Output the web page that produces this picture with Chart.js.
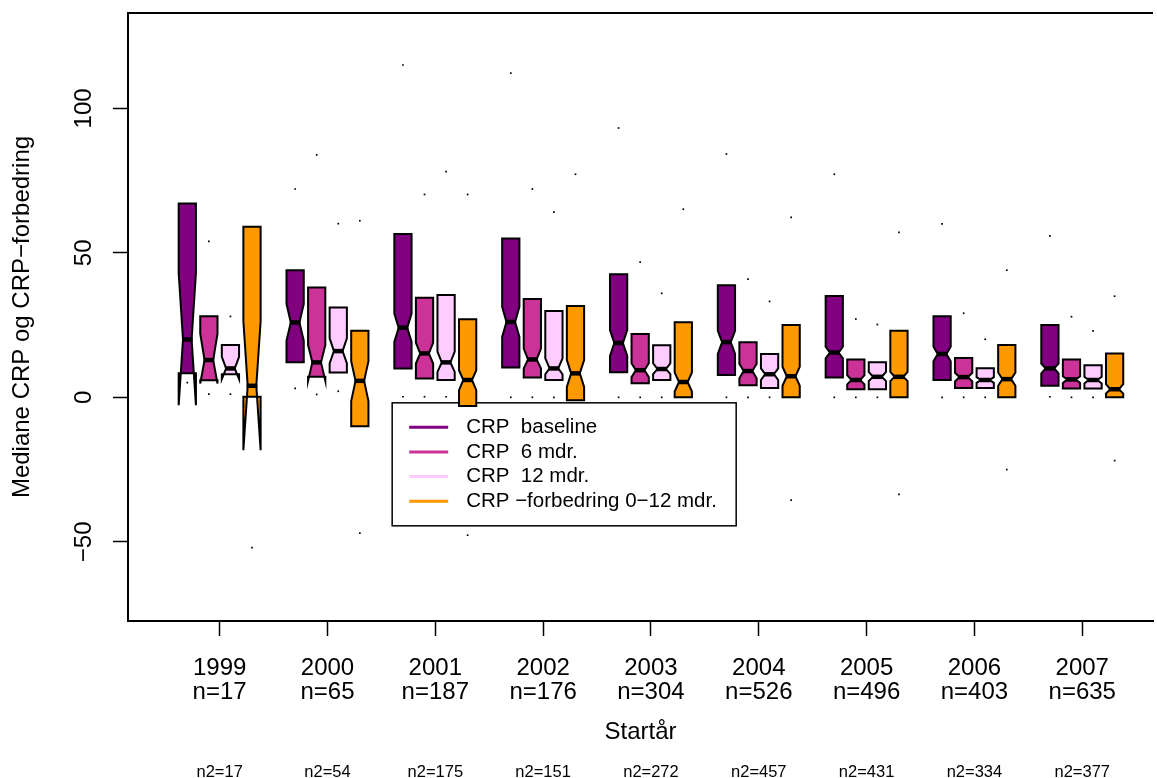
<!DOCTYPE html>
<html>
<head>
<meta charset="utf-8">
<script src="https://cdn.jsdelivr.net/npm/chart.js@4.4.1/dist/chart.umd.min.js"></script>
<style>
  body { margin: 0; background: #fff; overflow: hidden; }
  canvas { display: block; }
</style>
</head>
<body>
<canvas id="chart" width="1157" height="778"></canvas>
<script>
// Startår og antall pasienter
const YEARS = [1999, 2000, 2001, 2002, 2003, 2004, 2005, 2006, 2007];
const N_START = [17, 65, 187, 176, 304, 526, 496, 403, 635];
const N2 = [17, 54, 175, 151, 272, 457, 431, 334, 377];

const SERIES = ['CRP  baseline', 'CRP  6 mdr.', 'CRP  12 mdr.', 'CRP \u2212forbedring 0\u221212 mdr.'];
const COLORS = ['#800080', '#CC3399', '#FFCCFF', '#FF9900'];

// boksplott-statistikk, en rad per serie (baseline, 6 mdr, 12 mdr, forbedring)
const Q3 = [
    [67.1, 44.0, 56.5, 55.0, 42.6, 38.8, 35.1, 28.1, 25.0],
    [28.1, 38.0, 34.5, 34.0, 21.9, 19.1, 13.1, 13.6, 13.1],
    [18.1, 31.1, 35.4, 29.9, 18.0, 15.0, 12.1, 10.1, 11.1],
    [59.0, 23.0, 27.0, 31.6, 26.0, 25.0, 23.0, 18.1, 15.2]
];
const MEDIAN = [
    [20.0, 25.9, 24.1, 26.1, 18.8, 19.1, 15.5, 15.0, 10.0],
    [12.9, 12.1, 15.2, 13.1, 9.4, 9.1, 6.0, 7.0, 6.2],
    [10.0, 16.0, 12.1, 10.0, 9.8, 8.0, 7.1, 6.0, 6.0],
    [4.0, 5.7, 6.0, 8.3, 5.3, 7.3, 7.1, 6.3, 2.8]
];
const Q1 = [
    [8.3, 12.1, 10.0, 10.3, 8.7, 7.7, 6.9, 6.0, 4.0],
    [5.9, 7.1, 6.5, 6.9, 4.9, 4.2, 2.8, 3.2, 3.1],
    [8.0, 8.6, 6.0, 6.0, 6.0, 3.2, 2.8, 3.2, 3.1],
    [0.2, -10.0, -3.0, -1.0, 0, 0, 0, 0, 0]
];
const NOTCH_LO = [
    [-2.7, 19.6, 19.2, 20.9, 14.3, 15.0, 13.5, 12.5, 8.3],
    [4.8, 5.7, 11.7, 10.0, 7.0, 6.6, 4.5, 5.5, 5.0],
    [6.3, 11.7, 8.8, 8.0, 8.0, 6.0, 5.6, 5.0, 4.8],
    [-18.3, -1.3, 2.5, 3.6, 2.0, 4.0, 5.6, 4.0, 1.3]
];
const NOTCH_HI = [
    [43.0, 32.3, 29.0, 31.3, 23.3, 23.0, 17.5, 17.5, 11.7],
    [22.0, 18.1, 18.9, 16.9, 11.8, 11.6, 7.7, 8.5, 7.3],
    [14.0, 20.4, 15.8, 13.5, 11.8, 10.0, 8.8, 7.0, 7.1],
    [26.3, 12.5, 9.4, 12.9, 8.6, 10.6, 8.8, 8.6, 4.6]
];
// enkeltpunkter over og under boksene (null = ikke synlig)
const DOT_HIGH = [
    [null, 72.1, 115, 112.2, 93.2, 84.2, 77.2, 60.0, 55.9],
    [54.0, 83.9, 70.2, 72.1, 46.8, 40.9, 27.1, 29.1, 27.9],
    [28.0, 60.1, 78.1, 64.1, 36.0, 33.2, 25.2, 20.1, 23.0],
    [null, 61.1, 70.2, 77.2, 65.1, 62.3, 57.1, 44.0, 35.0]
];
const DOT_LOW = [
    [5.1, 3.1, 0.2, 0, 0, 0, 0, 0, 0.2],
    [1.1, 1.0, 0.2, 0, 0, 0, 0, 0, 0],
    [1.1, 2.1, 0.2, 0, 0, 0, 0, 0, 0],
    [-52, -47, -47.7, null, -37.5, -35.6, -33.6, -25, -21.9]
];

const Y_TICKS = [-50, 0, 50, 100];

// plassering av boksene rundt hvert år
const OFFSETS = [-0.3, -0.1, 0.1, 0.3];
const BOX_WIDTH = 0.16;
const FONT = "'Liberation Sans', Arial, sans-serif";

Chart.defaults.font.family = FONT;
Chart.defaults.color = '#000';

function dotData(s) {
    const pts = [];
    YEARS.forEach((yr, i) => {
        if (DOT_HIGH[s][i] !== null) pts.push({x: yr + OFFSETS[s], y: DOT_HIGH[s][i]});
        if (DOT_LOW[s][i] !== null) pts.push({x: yr + OFFSETS[s], y: DOT_LOW[s][i]});
    });
    return pts;
}

function drawLegend(chart) {
    const {ctx, scales: {x, y}} = chart;
    const lx = x.getPixelForValue(2000.6);
    const ly = y.getPixelForValue(-1.9);
    ctx.save();
    ctx.fillStyle = '#fff';
    ctx.fillRect(lx, ly, 344, 123);
    ctx.strokeStyle = '#000';
    ctx.lineWidth = 1.5;
    ctx.strokeRect(lx, ly, 344, 123);
    ctx.font = '20.5px ' + FONT;
    ctx.textBaseline = 'middle';
    SERIES.forEach((name, s) => {
        const ry = ly + 24.5 + s * 24.6;
        ctx.strokeStyle = COLORS[s];
        ctx.lineWidth = 3;
        ctx.beginPath();
        ctx.moveTo(lx + 17, ry);
        ctx.lineTo(lx + 56, ry);
        ctx.stroke();
        ctx.fillStyle = '#000';
        ctx.fillText(name, lx + 74, ry);
    });
    ctx.restore();
}

const notchBoxes = {
    id: 'notchBoxes',
    beforeDatasetsDraw(chart) {
        const {ctx, scales: {x, y}} = chart;
        drawLegend(chart);
        // halv boksbredde i piksler (målt fra første år, ikke fra 0 - skalaen klipper store verdier)
        const w = (x.getPixelForValue(YEARS[0] + BOX_WIDTH) - x.getPixelForValue(YEARS[0])) / 2;
        ctx.save();
        ctx.beginPath();
        ctx.rect(chart.chartArea.left, chart.chartArea.top, chart.chartArea.width, chart.chartArea.height);
        ctx.clip();
        for (let s = 0; s < SERIES.length; s++) {
            YEARS.forEach((yr, i) => {
                const cx = x.getPixelForValue(yr + OFFSETS[s]);
                const q1 = y.getPixelForValue(Q1[s][i]);
                const q3 = y.getPixelForValue(Q3[s][i]);
                const md = y.getPixelForValue(MEDIAN[s][i]);
                const lo = y.getPixelForValue(NOTCH_LO[s][i]);
                const hi = y.getPixelForValue(NOTCH_HI[s][i]);
                // samme omriss som R sin notch-boks
                const pts = [
                    [cx - w, q1], [cx + w, q1], [cx + w, lo], [cx + w / 2, md], [cx + w, hi],
                    [cx + w, q3], [cx - w, q3], [cx - w, hi], [cx - w / 2, md], [cx - w, lo]
                ];
                ctx.beginPath();
                pts.forEach((p, k) => k ? ctx.lineTo(p[0], p[1]) : ctx.moveTo(p[0], p[1]));
                ctx.closePath();
                ctx.fillStyle = COLORS[s];
                ctx.fill();
                ctx.strokeStyle = '#000';
                ctx.lineWidth = 2;
                ctx.stroke();

                ctx.lineWidth = 4.5;
                ctx.beginPath();
                ctx.moveTo(cx - w / 2 - 1, md);
                ctx.lineTo(cx + w / 2 + 1, md);
                ctx.stroke();
            });
        }
        ctx.restore();
    },
    afterDraw(chart) {
        const {ctx, chartArea, scales: {x, y}} = chart;
        ctx.save();
        // topplinje i rammen
        ctx.strokeStyle = '#000';
        ctx.lineWidth = 2;
        ctx.beginPath();
        ctx.moveTo(chartArea.left, chartArea.top);
        ctx.lineTo(chartArea.right, chartArea.top);
        ctx.stroke();

        // y-etiketter, rotert som i R
        ctx.fillStyle = '#000';
        ctx.font = '24px ' + FONT;
        ctx.textAlign = 'center';
        ctx.textBaseline = 'middle';
        Y_TICKS.forEach(v => {
            ctx.save();
            ctx.translate(84, y.getPixelForValue(v));
            ctx.rotate(-Math.PI / 2);
            ctx.fillText(String(v).replace('-', '\u2212'), 0, 0);
            ctx.restore();
        });

        // n2 nederst
        ctx.font = '16.5px ' + FONT;
        ctx.textBaseline = 'alphabetic';
        YEARS.forEach((yr, i) => {
            ctx.fillText('n2=' + N2[i], x.getPixelForValue(yr), 777);
        });
        ctx.restore();
    }
};

new Chart(document.getElementById('chart'), {
    type: 'scatter',
    data: {
        datasets: SERIES.map((name, s) => ({
            label: name,
            data: dotData(s),
            pointStyle: 'rect',
            pointRadius: 1.2,
            backgroundColor: '#000',
            borderWidth: 0
        }))
    },
    options: {
        responsive: false,
        animation: false,
        layout: {padding: {top: 13, left: 0, right: 0, bottom: 0}},
        plugins: {
            legend: {display: false},
            tooltip: {enabled: false}
        },
        scales: {
            x: {
                type: 'linear',
                min: 1998.15,
                max: 2007.656,
                afterBuildTicks: s => { s.ticks = YEARS.map(v => ({value: v})); },
                afterFit: s => { s.height = 157; },
                grid: {drawOnChartArea: false, tickLength: 15, tickColor: '#000', tickWidth: 1.5},
                border: {color: '#000', width: 2},
                ticks: {
                    autoSkip: false,
                    maxRotation: 0,
                    padding: 20,
                    color: '#000',
                    font: {size: 24, lineHeight: 1},
                    callback: (v, i) => [String(YEARS[i]), 'n=' + N_START[i]]
                },
                title: {
                    display: true,
                    text: 'Startår',
                    color: '#000',
                    font: {size: 24, lineHeight: 1},
                    padding: {top: 0, bottom: 34}
                }
            },
            y: {
                type: 'linear',
                min: -77.4,
                max: 133.0,
                afterBuildTicks: s => { s.ticks = Y_TICKS.map(v => ({value: v})); },
                afterFit: s => { s.width = 128; },
                grid: {drawOnChartArea: false, tickLength: 15, tickColor: '#000', tickWidth: 1.5},
                border: {color: '#000', width: 2},
                ticks: {callback: () => ''},
                title: {
                    display: true,
                    text: 'Mediane CRP og CRP\u2212forbedring',
                    color: '#000',
                    font: {size: 24, lineHeight: 1},
                    padding: {top: 10, bottom: 0}
                }
            }
        }
    },
    plugins: [notchBoxes]
});
</script>
</body>
</html>
